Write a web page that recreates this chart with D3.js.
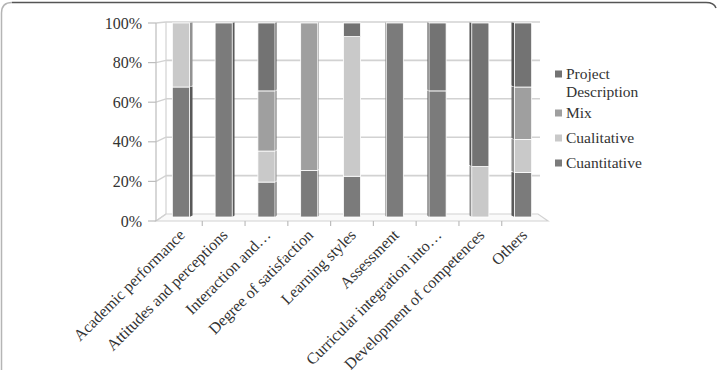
<!DOCTYPE html>
<html>
<head>
<meta charset="utf-8">
<script src="https://cdn.jsdelivr.net/npm/d3@7"></script>
<style>
  html, body { margin: 0; padding: 0; background: #fff; }
  svg { display: block; }
  text { font-family: "Liberation Serif", "Times New Roman", Times, serif; }
</style>
</head>
<body>
<div id="chart"></div>
<script>
// Stacked 100% column chart, Excel-style 3D look (walls, floor, bar sides)

const categories = [
  "Academic performance", "Attitudes and perceptions", "Interaction and…",
  "Degree of satisfaction", "Learning styles", "Assessment",
  "Curricular integration into…", "Development of competences", "Others"
];

// percentages, stacked bottom -> top
const cuantitative = [67, 100, 18, 24, 21, 100, 65, 0, 23];
const cualitative  = [33,   0, 16,  0, 72,   0,  0, 26, 17];
const mix          = [ 0,   0, 31, 76,  0,   0,  0,  0, 27];
const project      = [ 0,   0, 35,  0,  7,   0, 35, 74, 33];

const yTicks = [0, 0.2, 0.4, 0.6, 0.8, 1];

const SERIES = [
  { name: "Cuantitative",        values: cuantitative, color: "#7b7b7b" },
  { name: "Cualitative",         values: cualitative,  color: "#c9c9c9" },
  { name: "Mix",                 values: mix,          color: "#9f9f9f" },
  { name: "Project Description", values: project,      color: "#737373" },
];

const W = 717, H = 370;

const svg = d3.select("#chart").append("svg")
  .attr("width", W).attr("height", H);

// frame
svg.append("path")
  .attr("d", "M1.5,370 L1.5,13 Q1.5,2.5 12,2.5")
  .attr("fill", "none").attr("stroke", "#b5b5b5").attr("stroke-width", 1.5);
svg.append("path")
  .attr("d", "M12,2.5 L706,2.5 Q714,2.5 716,8")
  .attr("fill", "none").attr("stroke", "#555").attr("stroke-width", 1.5);

const x = d3.scaleBand()
  .domain(categories)
  .range([159.5, 544.5])
  .paddingInner(0.6)
  .paddingOuter(0.3);

const yFront = d3.scaleLinear().domain([0, 1]).range([221, 23]);
const yBack  = d3.scaleLinear().domain([0, 1]).range([214, 22]);
const yBar   = d3.scaleLinear().domain([0, 100]).range([217, 23]);

const backL = 166, backR = 538, frontL = 156, frontR = 548;
const gridColor = "#d2d2d2";

// floor
svg.append("polygon")
  .attr("points", [[frontL, yFront(0)], [frontR, yFront(0)], [backR, yBack(0)], [backL, yBack(0)]].join(" "))
  .attr("fill", "#fafafa")
  .attr("stroke", gridColor).attr("stroke-width", 1.2);

// back wall grid + left wall grid
yTicks.forEach(t => {
  if (t > 0) {
    svg.append("line")
      .attr("x1", backL).attr("x2", backR + 2)
      .attr("y1", yBack(t)).attr("y2", yBack(t))
      .attr("stroke", gridColor).attr("stroke-width", 1.6);
  }
  svg.append("line")
    .attr("x1", frontL).attr("x2", backL)
    .attr("y1", yFront(t)).attr("y2", yBack(t))
    .attr("stroke", gridColor).attr("stroke-width", 1.4);
  // tick
  svg.append("line")
    .attr("x1", frontL - 8).attr("x2", frontL)
    .attr("y1", yFront(t)).attr("y2", yFront(t))
    .attr("stroke", "#bdbdbd").attr("stroke-width", 1.2);
});

svg.append("line")
  .attr("x1", backL).attr("x2", backL)
  .attr("y1", yBack(1)).attr("y2", yBack(0))
  .attr("stroke", gridColor).attr("stroke-width", 1.2);
svg.append("line")
  .attr("x1", frontL).attr("x2", frontL)
  .attr("y1", yFront(1)).attr("y2", yFront(0))
  .attr("stroke", "#bdbdbd").attr("stroke-width", 1.2);

// y labels
svg.append("g").selectAll("text")
  .data(yTicks)
  .join("text")
    .attr("x", frontL - 14)
    .attr("y", d => yFront(d))
    .attr("dy", "0.35em")
    .attr("text-anchor", "end")
    .attr("font-size", "16px")
    .attr("fill", "#333")
    .text(d3.format(".0%"));

// x ticks between categories
const step = x.step();
d3.range(1, categories.length).forEach(i => {
  const tx = x(categories[i]) - (step - x.bandwidth()) / 2;
  svg.append("line")
    .attr("x1", tx).attr("x2", tx)
    .attr("y1", yFront(0)).attr("y2", yFront(0) + 5)
    .attr("stroke", "#bdbdbd").attr("stroke-width", 1.2);
});

// stacked bars
const table = categories.map((c, i) => {
  const row = { cat: c };
  SERIES.forEach(s => { row[s.name] = s.values[i]; });
  return row;
});
const stack = d3.stack().keys(SERIES.map(s => s.name))(table);
const vanishX = 352;

stack.forEach((layer, li) => {
  const color = SERIES[li].color;
  const side = d3.color(color).darker(0.9).formatHex();
  const g = svg.append("g");
  layer.forEach((seg, i) => {
    if (seg[1] - seg[0] <= 0) return;
    const cat = categories[i];
    const bx = x(cat), bw = x.bandwidth();
    const cx = bx + bw / 2;
    const depth = (vanishX - cx) * 0.018;
    const y0 = yBar(seg[0]), y1 = yBar(seg[1]);
    // side face
    if (Math.abs(depth) > 0.5) {
      const ex = depth > 0 ? bx + bw : bx;
      g.append("polygon")
        .attr("points", [[ex, y1], [ex + depth, y1 - 0.5], [ex + depth, y0 - 1.5], [ex, y0]].join(" "))
        .attr("fill", side);
    }
    g.append("rect")
      .attr("x", bx).attr("width", bw)
      .attr("y", y1).attr("height", y0 - y1)
      .attr("fill", color)
      .attr("stroke", "#fff").attr("stroke-width", 0.8);
  });
});

// x labels
svg.append("g").selectAll("text")
  .data(categories)
  .join("text")
    .attr("transform", d => `translate(${x(d) + x.bandwidth() / 2 + 5},${yFront(0) + 15}) rotate(-45)`)
    .attr("text-anchor", "end")
    .attr("font-size", "16px")
    .attr("fill", "#333")
    .text(d => d);

// legend (reverse order)
const legendItems = SERIES.slice().reverse();
const legendY = [74, 113, 138, 163];
const legend = svg.append("g");
legendItems.forEach((s, i) => {
  legend.append("rect")
    .attr("x", 555).attr("y", legendY[i] - 3.5)
    .attr("width", 7).attr("height", 7)
    .attr("fill", s.color);
  const words = s.name === "Project Description" ? ["Project", "Description"] : [s.name];
  const t = legend.append("text")
    .attr("x", 566).attr("y", legendY[i])
    .attr("font-size", "15.5px")
    .attr("fill", "#333");
  words.forEach((w, j) => {
    t.append("tspan").attr("x", 566).attr("dy", j === 0 ? "0.35em" : "1.15em").text(w);
  });
});
</script>
</body>
</html>
